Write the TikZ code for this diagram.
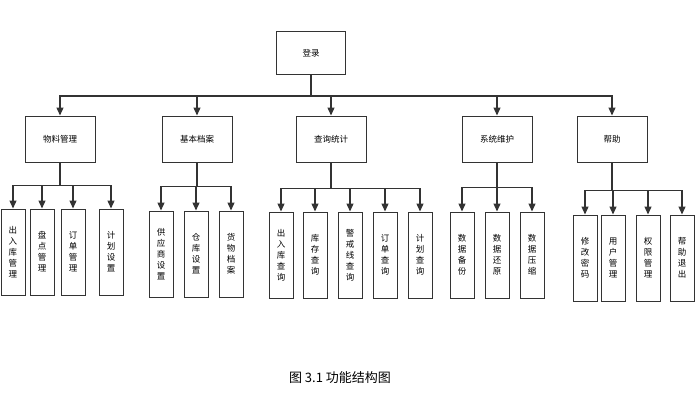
\documentclass[tikz,border=0pt]{standalone}
\usepackage{fontspec}
\setmainfont{Noto Sans CJK SC}
\usetikzlibrary{arrows.meta}

\begin{document}
\begin{tikzpicture}[
        x=1pt, y=-1pt,
        >={Triangle[length=8pt,width=7pt]},
        box/.style={draw=black!80, line width=1pt, font=\fontsize{8.5}{9}\selectfont},
        topbox/.style={box, minimum width=69pt, minimum height=43pt},
        midbox/.style={box, minimum width=70pt, minimum height=46pt},
        leaf/.style={box, minimum width=24pt, minimum height=86pt, align=center, inner sep=1pt, font=\fontsize{8.5}{11}\selectfont},
        arrow/.style={->, line width=1.3pt, draw=black!80}
    ]
    \useasboundingbox (0,0) rectangle (700,413);

    % 顶层
    \node[topbox] (login) at (311,53) {登录};

    % 第二层
    \node[midbox] (wl) at (60,139) {物料管理};
    \node[midbox] (da) at (197,139) {基本档案};
    \node[midbox] (cx) at (331,139) {查询统计};
    \node[midbox] (xt) at (497,139) {系统维护};
    \node[midbox] (bz) at (612,139) {帮助};

    % 第三层
    \node[leaf] (wl1) at (13,252) {出\\入\\库\\管\\理};
    \node[leaf] (wl2) at (42,252) {盘\\点\\管\\理};
    \node[leaf] (wl3) at (73,252) {订\\单\\管\\理};
    \node[leaf] (wl4) at (111,252) {计\\划\\设\\置};

    \node[leaf] (da1) at (161,254) {供\\应\\商\\设\\置};
    \node[leaf] (da2) at (196,254) {仓\\库\\设\\置};
    \node[leaf] (da3) at (231,254) {货\\物\\档\\案};

    \node[leaf] (cx1) at (281,255) {出\\入\\库\\查\\询};
    \node[leaf] (cx2) at (315,255) {库\\存\\查\\询};
    \node[leaf] (cx3) at (350,255) {警\\戒\\线\\查\\询};
    \node[leaf] (cx4) at (385,255) {订\\单\\查\\询};
    \node[leaf] (cx5) at (420,255) {计\\划\\查\\询};

    \node[leaf] (xt1) at (462,255) {数\\据\\备\\份};
    \node[leaf] (xt2) at (497,255) {数\\据\\还\\原};
    \node[leaf] (xt3) at (532,255) {数\\据\\压\\缩};

    \node[leaf] (bz1) at (585,258) {修\\改\\密\\码};
    \node[leaf] (bz2) at (613,258) {用\\户\\管\\理};
    \node[leaf] (bz3) at (648,258) {权\\限\\管\\理};
    \node[leaf] (bz4) at (682,258) {帮\\助\\退\\出};

    % 连线
    \foreach \c in {wl,da,cx,xt,bz}
        \draw[arrow] (login.south) -- ++(0,21) -| (\c.north);
    \foreach \c in {wl1,wl2,wl3,wl4}
        \draw[arrow] (wl.south) -- ++(0,23) -| (\c.north);
    \foreach \c in {da1,da2,da3}
        \draw[arrow] (da.south) -- ++(0,24) -| (\c.north);
    \foreach \c in {cx1,cx2,cx3,cx4,cx5}
        \draw[arrow] (cx.south) -- ++(0,26) -| (\c.north);
    \foreach \c in {xt1,xt2,xt3}
        \draw[arrow] (xt.south) -- ++(0,25) -| (\c.north);
    \foreach \c in {bz1,bz2,bz3,bz4}
        \draw[arrow] (bz.south) -- ++(0,28) -| (\c.north);

    % 图题
    \node[font=\fontsize{13}{15}\selectfont] (title) at (340,378) {图 3.1 功能结构图};
\end{tikzpicture}
\end{document}
